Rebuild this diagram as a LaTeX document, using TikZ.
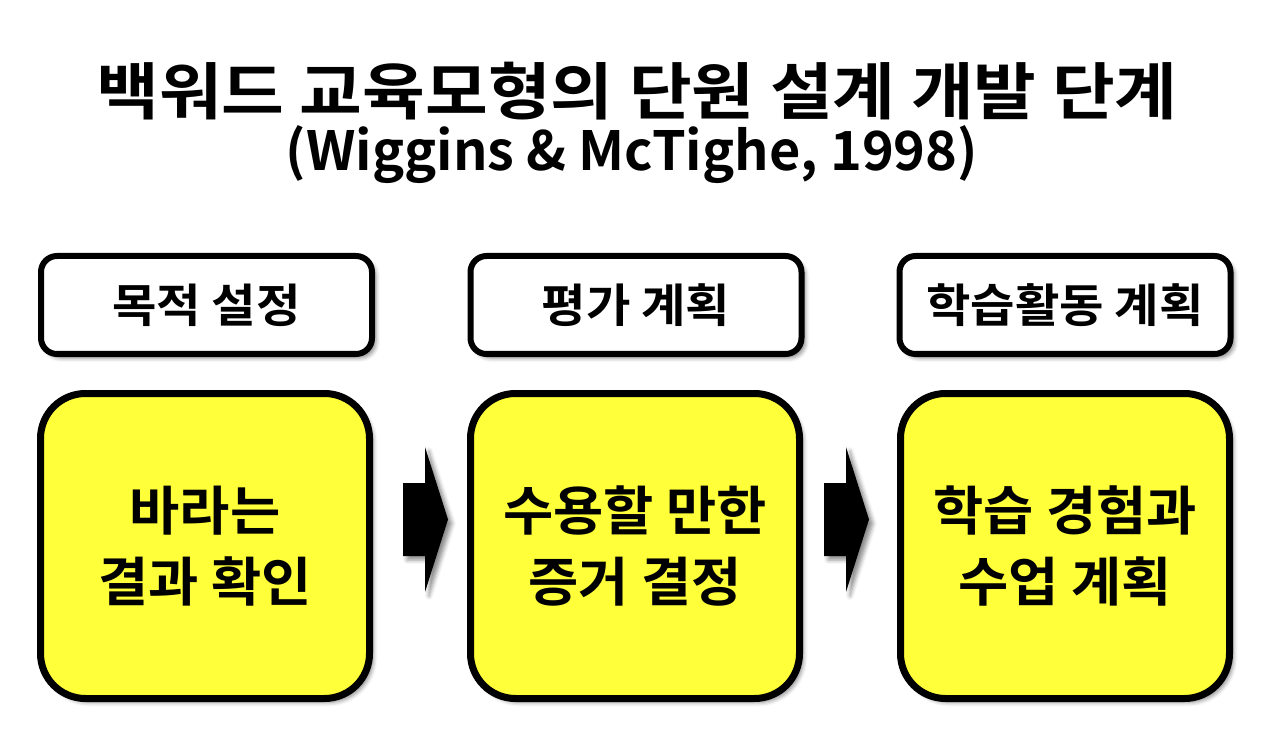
\documentclass[tikz,border=0pt]{standalone}
\usepackage{fontspec}
\setmainfont{Noto Sans CJK KR}[BoldFont={Noto Sans CJK KR Bold}]
\newfontfamily\titlefont{Noto Sans CJK KR Bold}[FakeStretch=1.1]
\newfontfamily\subfont{Noto Sans CJK KR Bold}
\newfontfamily\headfont{Noto Sans CJK KR Bold}[FakeStretch=1.05]
\newfontfamily\mainfont{Noto Sans CJK KR Bold}[FakeStretch=1.03]
\usetikzlibrary{shadows.blur}
\definecolor{boxyellow}{HTML}{FFFF3A}
\tikzset{
  softshadow/.style={blur shadow={shadow xshift=4pt,shadow yshift=-4pt,shadow blur radius=4pt,shadow opacity=45}},
  headbox/.style={draw=black,line width=6pt,fill=white,rounded corners=16pt,
    minimum width=331pt,minimum height=98pt,inner sep=0pt,softshadow,
    font=\headfont\fontsize{46}{52}\selectfont},
  mainbox/.style={draw=black,line width=7pt,fill=boxyellow,rounded corners=45pt,
    minimum width=329pt,minimum height=305pt,inner sep=0pt,softshadow,align=center,
    font=\mainfont\fontsize{53}{71}\selectfont},
  titletext/.style={inner sep=0pt,font=\titlefont\fontsize{62}{64}\selectfont},
  subtitletext/.style={inner sep=0pt,font=\subfont\fontsize{54}{60}\selectfont},
  blockarrow/.pic={\fill[black,softshadow] (-22,-36.5) -- (0,-36.5) -- (0,-72.5) -- (23,0) -- (0,72.5) -- (0,36.5) -- (-22,36.5) -- cycle;}
}
\begin{document}
\begin{tikzpicture}[x=1pt,y=-1pt]
\useasboundingbox (0,0) rectangle (1280,743);
\node[titletext] (title) at (637,91) {백워드 교육모형의 단원 설계 개발 단계};
\node[subtitletext] (subtitle) at (632,155) {(Wiggins \& McTighe, 1998)};

\node[headbox] (h1) at (206.5,305) {목적 설정};
\node[headbox] (h2) at (636,305) {평가 계획};
\node[headbox] (h3) at (1065,305) {학습활동 계획};

\node[mainbox] (m1) at (205,546) {바라는\\결과 확인};
\node[mainbox] (m2) at (635,546) {수용할 만한\\증거 결정};
\node[mainbox] (m3) at (1065,546) {학습 경험과\\수업 계획};

\coordinate (a1) at (425,519.5);
\coordinate (a2) at (846,519.5);
\pic at (a1) {blockarrow};
\pic at (a2) {blockarrow};
\end{tikzpicture}
\end{document}
